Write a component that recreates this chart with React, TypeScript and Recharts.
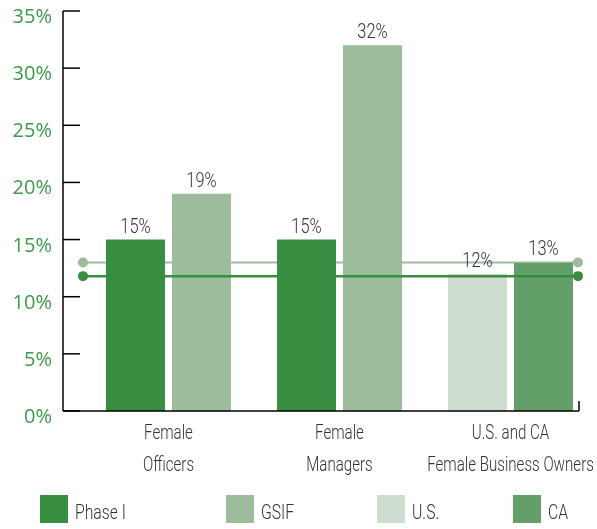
import React from 'react';
import {
  BarChart,
  Bar,
  XAxis,
  YAxis,
  Cell,
  LabelList,
  Legend,
  ReferenceLine,
} from 'recharts';

// categories (two-line labels split on \n)
const CATEGORIES = ['Female\nOfficers', 'Female\nManagers', 'U.S. and CA\nFemale Business Owners'];
// first / second bar in each group
const FIRST_VALUES = [15, 15, 12];
const SECOND_VALUES = [19, 32, 13];
const Y_TICKS = [0, 5, 10, 15, 20, 25, 30, 35];

// horizontal marker lines
const PHASE_I_LINE = 11.8;
const GSIF_LINE = 13;

const LEGEND_NAMES = ['Phase I', 'GSIF', 'U.S.', 'CA'];

const PHASE_I = '#388e40';
const GSIF = '#9dbc9c';
const US = '#cfddd1';
const CA = '#639f68';
const LEGEND_COLORS = [PHASE_I, GSIF, US, CA];
const FIRST_COLORS = [PHASE_I, PHASE_I, US];
const SECOND_COLORS = [GSIF, GSIF, CA];

const TEXT = '#333333';
const AXIS_GREEN = '#3c9a4b';
// no condensed face installed, so a light Roboto gets squeezed horizontally
const SANS = "Roboto, 'Liberation Sans', sans-serif";

const data = CATEGORIES.map((name, i) => ({
  name,
  first: FIRST_VALUES[i],
  second: SECOND_VALUES[i],
}));

function YTick(props: any) {
  const { x, y, payload } = props;
  return (
    <g>
      <line x1={x} y1={y} x2={x + 17} y2={y} stroke="#000" strokeWidth={1.5} />
      <text
        x={x - 11}
        y={y}
        dy={12}
        textAnchor="end"
        fill={AXIS_GREEN}
        fontSize={20}
        fontFamily="'Open Sans', sans-serif"
      >
        {`${payload.value}%`}
      </text>
    </g>
  );
}

function XTick(props: any) {
  const { x, y, payload } = props;
  const lines = String(payload.value).split('\n');
  return (
    <text
      transform={`translate(${x},${y}) scale(0.72,1)`}
      textAnchor="middle"
      fill={TEXT}
      fontSize={21}
      fontWeight={300}
      fontFamily={SANS}
    >
      {lines.map((line, i) => (
        <tspan key={i} x={0} dy={i === 0 ? 20 : 32}>
          {line}
        </tspan>
      ))}
    </text>
  );
}

function ValueLabel(props: any) {
  const { x, y, width, value } = props;
  return (
    <text
      transform={`translate(${x + width / 2},${y - 7}) scale(0.78,1)`}
      textAnchor="middle"
      fill={TEXT}
      fontSize={21}
      fontWeight={300}
      fontFamily={SANS}
    >
      {`${value}%`}
    </text>
  );
}

const markerLine = (color: string, width: number, blend?: string) => (props: any) => {
  const { x1, x2, y1 } = props;
  const left = Math.min(x1, x2) + 20;
  const right = Math.max(x1, x2) - 1;
  return (
    <g style={blend ? { mixBlendMode: blend as any } : undefined}>
      <line x1={left} y1={y1} x2={right} y2={y1} stroke={color} strokeWidth={width} />
      <circle cx={left} cy={y1} r={5} fill={color} />
      <circle cx={right} cy={y1} r={5} fill={color} />
    </g>
  );
};

const baseLine = (props: any) => {
  const { x1, x2, y1 } = props;
  const left = Math.min(x1, x2);
  const right = Math.max(x1, x2);
  return (
    <g>
      <line x1={left} y1={y1} x2={right} y2={y1} stroke="#000" strokeWidth={1.5} />
      <line x1={right} y1={y1} x2={right} y2={y1 - 10} stroke="#000" strokeWidth={1.5} />
    </g>
  );
};

function LegendContent() {
  const lefts = [40, 226, 377, 513];
  return (
    <div style={{ position: 'relative', width: 597, height: 30 }}>
      {LEGEND_NAMES.map((name, i) => (
        <div
          key={name}
          style={{
            position: 'absolute',
            left: lefts[i],
            top: 0,
            display: 'flex',
            alignItems: 'flex-end',
            gap: 7,
          }}
        >
          <div style={{ width: 28, height: 28, background: LEGEND_COLORS[i] }} />
          <span
            style={{
              display: 'inline-block',
              fontFamily: SANS,
              fontWeight: 300,
              fontSize: 21,
              color: TEXT,
              lineHeight: '22px',
              transform: 'scaleX(0.75)',
              transformOrigin: 'left bottom',
            }}
          >
            {name}
          </span>
        </div>
      ))}
    </div>
  );
}

export default function App() {
  return (
    <div style={{ position: 'absolute', left: 0, top: 0, width: 597, height: 529, background: '#fff' }}>
      <BarChart
        width={597}
        height={529}
        data={data}
        margin={{ top: 11, right: 18, left: 0, bottom: 48 }}
        barSize={59}
        barGap={7}
      >
        <XAxis
          dataKey="name"
          axisLine={false}
          tickLine={false}
          interval={0}
          height={70}
          padding={{ left: 20, right: -17 }}
          tick={<XTick />}
        />
        <YAxis
          domain={[0, 35]}
          ticks={Y_TICKS}
          width={63}
          axisLine={{ stroke: '#000', strokeWidth: 1.5 }}
          tickLine={false}
          tickSize={0}
          tickMargin={0}
          tick={<YTick />}
        />
        <Bar dataKey="first" isAnimationActive={false}>
          {data.map((_, i) => (
            <Cell key={`f-${i}`} fill={FIRST_COLORS[i]} />
          ))}
          <LabelList dataKey="first" content={<ValueLabel />} />
        </Bar>
        <Bar dataKey="second" isAnimationActive={false}>
          {data.map((_, i) => (
            <Cell key={`s-${i}`} fill={SECOND_COLORS[i]} />
          ))}
          <LabelList dataKey="second" content={<ValueLabel />} />
        </Bar>
        <ReferenceLine y={GSIF_LINE} shape={markerLine(GSIF, 2, 'darken')} />
        <ReferenceLine y={PHASE_I_LINE} shape={markerLine(PHASE_I, 2.5)} />
        <ReferenceLine y={0} shape={baseLine} />
        <Legend
          layout="horizontal"
          verticalAlign="middle"
          wrapperStyle={{ top: 495, left: 0, width: 597 }}
          content={() => <LegendContent />}
        />
      </BarChart>
    </div>
  );
}
